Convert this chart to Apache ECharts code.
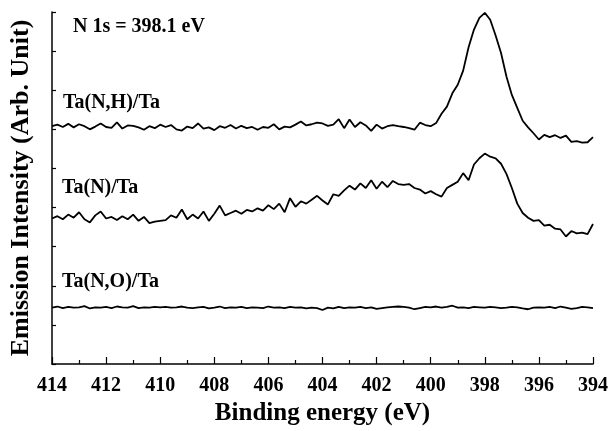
<!DOCTYPE html>
<html>
<head>
<meta charset="utf-8">
<script src="https://cdn.jsdelivr.net/npm/echarts@6/dist/echarts.min.js"></script>
<style>
  html, body { margin: 0; padding: 0; background: #fff; }
  #chart { width: 611px; height: 431px; }
</style>
</head>
<body>
<div id="chart"></div>
<script>
// binding energy grid, eV (414 -> 394, 0.2 eV step)
var energyStart = 414
var energyStep = 0.2

// N 1s intensities, arbitrary units (one unit = one y tick)
var tanhData = [
  6.08, 6.12, 6.06, 6.14, 6.05, 6.13, 6.08, 6.00, 6.07, 6.15,
  6.06, 6.04, 6.18, 6.02, 6.10, 6.09, 6.05, 5.99, 6.08, 6.03,
  6.12, 6.06, 6.11, 6.00, 5.97, 6.07, 6.03, 6.15, 6.02, 6.05,
  5.98, 6.08, 6.04, 6.11, 6.02, 6.09, 6.03, 6.06, 5.99, 6.06,
  6.04, 6.13, 6.00, 6.07, 6.05, 6.12, 6.20, 6.10, 6.13, 6.17,
  6.15, 6.09, 6.12, 6.26, 6.03, 6.25, 6.06, 6.18, 6.10, 5.96,
  6.12, 6.02, 6.08, 6.11, 6.08, 6.06, 6.03, 5.99, 6.17, 6.11,
  6.08, 6.16, 6.40, 6.58, 6.92, 7.14, 7.50, 8.10, 8.55, 8.85,
  8.98, 8.80, 8.40, 7.95, 7.35, 6.88, 6.55, 6.22, 6.05, 5.90,
  5.74, 5.86, 5.80, 5.85, 5.78, 5.84, 5.68, 5.70, 5.66, 5.67,
  5.80
]
var tanData = [
  3.72, 3.78, 3.70, 3.82, 3.74, 3.88, 3.70, 3.62, 3.80, 3.90,
  3.72, 3.76, 3.68, 3.78, 3.70, 3.82, 3.66, 3.76, 3.60, 3.64,
  3.66, 3.68, 3.80, 3.74, 3.95, 3.70, 3.82, 3.72, 3.90, 3.66,
  3.84, 4.05, 3.80, 3.86, 3.92, 3.84, 3.94, 3.90, 3.98, 3.92,
  4.06, 3.96, 4.10, 3.88, 4.24, 4.02, 4.16, 4.10, 4.20, 4.30,
  4.18, 4.08, 4.34, 4.30, 4.44, 4.56, 4.46, 4.62, 4.50, 4.70,
  4.48, 4.66, 4.52, 4.68, 4.60, 4.58, 4.60, 4.50, 4.46, 4.36,
  4.42, 4.34, 4.28, 4.50, 4.58, 4.66, 4.88, 4.70, 5.10, 5.26,
  5.38, 5.30, 5.26, 5.12, 4.86, 4.50, 4.10, 3.86, 3.74, 3.66,
  3.68, 3.54, 3.56, 3.46, 3.44, 3.26, 3.40, 3.34, 3.36, 3.32,
  3.58
]
var tanoData = [
  1.44, 1.47, 1.43, 1.46, 1.44, 1.45, 1.48, 1.42, 1.45, 1.44,
  1.46, 1.43, 1.47, 1.45, 1.44, 1.48, 1.43, 1.45, 1.44, 1.46,
  1.45, 1.46, 1.44, 1.45, 1.47, 1.44, 1.43, 1.45, 1.46, 1.42,
  1.44, 1.47, 1.43, 1.45, 1.44, 1.46, 1.43, 1.45, 1.44, 1.43,
  1.47, 1.44, 1.45, 1.43, 1.46, 1.44, 1.45, 1.42, 1.44, 1.43,
  1.38, 1.44, 1.42, 1.46, 1.43, 1.45, 1.44, 1.46, 1.43, 1.45,
  1.41, 1.43, 1.45, 1.46, 1.47, 1.46, 1.44, 1.40, 1.43, 1.46,
  1.45, 1.47, 1.44, 1.46, 1.49, 1.44, 1.45, 1.43, 1.46, 1.45,
  1.44, 1.46, 1.45, 1.43, 1.44, 1.46, 1.45, 1.42, 1.40, 1.44,
  1.45, 1.44, 1.46, 1.43, 1.47, 1.44, 1.41, 1.43, 1.46, 1.45,
  1.43
]

var seriesNames = ['Ta(N,H)/Ta', 'Ta(N)/Ta', 'Ta(N,O)/Ta']
var noteText = 'N 1s = 398.1 eV'

var font = "'Liberation Serif', 'Times New Roman', serif"

function pairs(vals){
  var out = []
  for (var i = 0; i < vals.length; i++) {
    var e = Math.round((energyStart - i * energyStep) * 10) / 10
    out.push([e, vals[i]])
  }
  return out
}

function lineSeries(name, vals){
  return {
    name: name,
    type: 'line',
    data: pairs(vals),
    showSymbol: false,
    symbol: 'none',
    silent: true,
    lineStyle: { color: '#000', width: 1.8 },
    animation: false
  }
}

var chart = echarts.init(document.getElementById('chart'), null, { renderer: 'canvas' })

var labelStyle = { fontFamily: font, fontWeight: 'bold', fontSize: 20, fill: '#000' }

var option = {
  backgroundColor: '#fff',
  animation: false,
  grid: { left: 50, right: 15, top: 12, bottom: 64 },
  xAxis: {
    type: 'value',
    inverse: true,
    min: 394,
    max: 414,
    interval: 2,
    name: 'Binding energy (eV)',
    nameLocation: 'middle',
    nameGap: 37,
    nameTextStyle: { fontFamily: font, fontWeight: 'bold', fontSize: 25, color: '#000' },
    axisLine: { lineStyle: { color: '#000', width: 1.5 } },
    axisTick: { inside: true, length: 7, lineStyle: { color: '#000', width: 1.2 } },
    minorTick: { show: true, splitNumber: 2, length: 4, lineStyle: { color: '#000', width: 1.2 } },
    axisLabel: {
      margin: 12,
      fontFamily: font,
      fontWeight: 'bold',
      fontSize: 20,
      color: '#000',
      showMinLabel: true,
      showMaxLabel: true
    },
    splitLine: { show: false }
  },
  yAxis: {
    type: 'value',
    min: 0,
    max: 9,
    interval: 1,
    name: 'Emission Intensity (Arb. Unit)',
    nameLocation: 'middle',
    nameGap: 18,
    nameTextStyle: { fontFamily: font, fontWeight: 'bold', fontSize: 26, color: '#000' },
    axisLine: { show: true, lineStyle: { color: '#000', width: 1.5 } },
    axisTick: { show: true, inside: true, length: 4, lineStyle: { color: '#000', width: 1.2 } },
    axisLabel: { show: false },
    splitLine: { show: false }
  },
  series: [
    lineSeries(seriesNames[0], tanhData),
    lineSeries(seriesNames[1], tanData),
    lineSeries(seriesNames[2], tanoData)
  ],
  graphic: [
    { type: 'text', left: 73, top: 17, style: Object.assign({ text: noteText }, labelStyle) },
    { type: 'text', left: 63, top: 93, style: Object.assign({ text: seriesNames[0] }, labelStyle) },
    { type: 'text', left: 62, top: 178, style: Object.assign({ text: seriesNames[1] }, labelStyle) },
    { type: 'text', left: 62, top: 272, style: Object.assign({ text: seriesNames[2] }, labelStyle) }
  ]
}

chart.setOption(option)
</script>
</body>
</html>
